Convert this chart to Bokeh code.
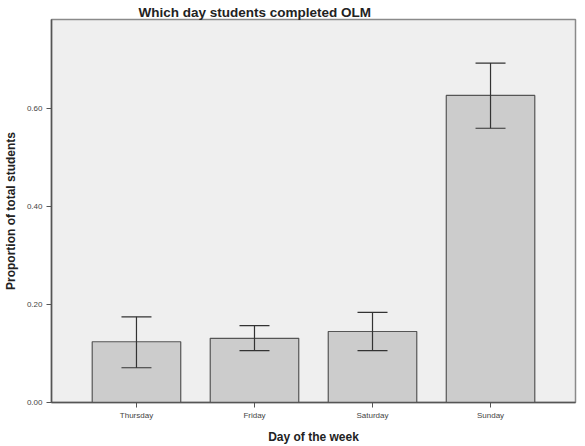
from bokeh.plotting import figure
from bokeh.models import ColumnDataSource, Whisker, TeeHead, FactorRange, Range1d, NumeralTickFormatter, FixedTicker
from bokeh.embed import file_html
from bokeh.resources import INLINE

days = ["Thursday", "Friday", "Saturday", "Sunday"]
proportion = [0.124, 0.131, 0.145, 0.627]
ci_upper = [0.175, 0.157, 0.184, 0.693]
ci_lower = [0.071, 0.106, 0.106, 0.560]
y_ticks = [0.0, 0.2, 0.4, 0.6]

src = ColumnDataSource(dict(day=days, prop=proportion, upper=ci_upper, lower=ci_lower))

p = figure(width=585, height=446, output_backend="svg", toolbar_location=None,
           x_range=FactorRange(factors=days, range_padding=0.11),
           y_range=Range1d(0, 0.782),
           min_border_left=51, min_border_right=10, min_border_top=19, min_border_bottom=40)

p.title.text = "Which day students completed OLM"
p.title.align = "left"
p.title.offset = 87
p.title.text_font = "Liberation Sans"
p.title.text_font_size = "13.5px"
p.title.text_font_style = "bold"
p.title.text_color = "#222222"
p.title.standoff = 0

p.background_fill_color = "#efefef"
p.border_fill_color = "white"
p.outline_line_color = "#8a8a8a"
p.outline_line_width = 1.5
p.xgrid.visible = False
p.ygrid.visible = False

p.vbar(x="day", top="prop", width=0.75, source=src, fill_color="#cccccc",
       line_color="#555555", line_width=1.2)

wh = Whisker(base="day", upper="upper", lower="lower", source=src, level="overlay",
             line_color="#333333", line_width=1.2,
             upper_head=TeeHead(size=30, line_color="#333333", line_width=1.2),
             lower_head=TeeHead(size=30, line_color="#333333", line_width=1.2))
p.add_layout(wh)

for ax in (p.xaxis[0], p.yaxis[0]):
    ax.axis_line_color = "#555555"
    ax.axis_line_width = 1.5
    ax.major_tick_line_color = "#555555"
    ax.minor_tick_line_color = None
    ax.major_tick_in = 0
    ax.major_label_text_font = "Liberation Sans"
    ax.major_label_text_font_size = "8px"
    ax.major_label_text_color = "#444444"
    ax.axis_label_text_font = "Liberation Sans"
    ax.axis_label_text_font_size = "12px"
    ax.axis_label_text_font_style = "bold"
    ax.axis_label_text_color = "#222222"

p.yaxis.axis_label = "Proportion of total students"
p.yaxis.ticker = FixedTicker(ticks=y_ticks)
p.yaxis.formatter = NumeralTickFormatter(format="0.00")
p.yaxis.major_tick_out = 5
p.yaxis.major_label_standoff = 4
p.yaxis.axis_label_standoff = 6

p.xaxis.axis_label = "Day of the week"
p.xaxis.major_tick_out = 5
p.xaxis.major_label_standoff = 3
p.xaxis.axis_label_standoff = 7

open("out.html", "w").write(file_html(p, INLINE))
